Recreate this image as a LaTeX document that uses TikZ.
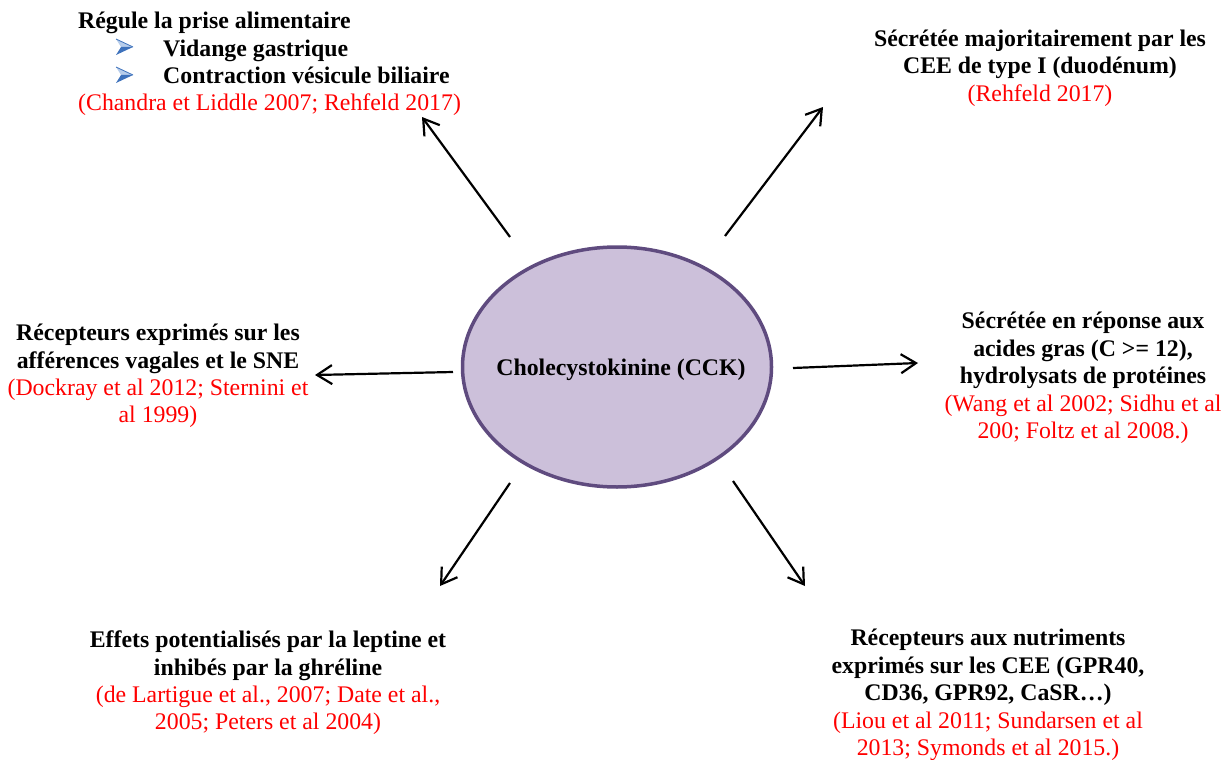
\documentclass[tikz,border=0pt]{standalone}
\usepackage{fontspec}
\setmainfont{Liberation Serif}
\usetikzlibrary{arrows.meta,shapes.geometric}

\definecolor{cckfill}{HTML}{CCC0DA}
\definecolor{cckline}{HTML}{5F4B7F}
\definecolor{refred}{HTML}{FF0000}
\definecolor{bulletlight}{HTML}{B7CDEB}
\definecolor{bulletdark}{HTML}{3E72BC}

% red, upright reference line
\newcommand{\refline}[1]{\textcolor{refred}{\mdseries #1}}

\tikzset{
  txt/.style={align=center, inner sep=0pt, font=\fontsize{23.8}{27.4}\selectfont\bfseries},
  link/.style={line width=2.2pt, -{Straight Barb[length=15pt,width=19pt,line width=2.2pt]}},
  pics/listarrow/.style={code={
    \fill[bulletlight] (-8,-8) -- (9,0) -- (-3,0) -- cycle;
    \draw[bulletdark, line width=0.8pt, line join=round] (-8,-8) -- (9,0);
    \fill[bulletdark] (-3,0) -- (9,0) -- (-8,8) -- cycle;
  }}
}

\begin{document}
\begin{tikzpicture}[x=1pt,y=-1pt]
\useasboundingbox (0,0) rectangle (1232,760);

% central hormone
\node[ellipse, draw=cckline, line width=3.5pt, fill=cckfill,
      minimum width=309pt, minimum height=240pt, inner sep=0pt] (cck) at (617,367) {};
\node[txt] (ccktext) at (621,370) {Cholecystokinine (CCK)};

% surrounding statements
\node[txt, align=left, anchor=west] (prise) at (78,64)
  {Régule la prise alimentaire\\
   \hspace*{85pt}Vidange gastrique\\
   \hspace*{85pt}Contraction vésicule biliaire\\
   \refline{(Chandra et Liddle 2007; Rehfeld 2017)}};
\pic at (124,47) {listarrow};
\pic at (124,75) {listarrow};

\node[txt] (cee) at (1040,68)
  {Sécrétée majoritairement par les\\
   CEE de type I (duodénum)\\
   \refline{(Rehfeld 2017)}};

\node[txt] (vagal) at (158,376)
  {Récepteurs exprimés sur les\\
   afférences vagales et le SNE\\
   \refline{(Dockray et al 2012; Sternini et}\\
   \refline{al 1999)}};

\node[txt] (gras) at (1083,378)
  {Sécrétée en réponse aux\\
   acides gras (C >= 12),\\
   hydrolysats de protéines\\
   \refline{(Wang et al 2002; Sidhu et al}\\
   \refline{200; Foltz et al 2008.)}};

\node[txt] (leptine) at (268,683)
  {Effets potentialisés par la leptine et\\
   inhibés par la ghréline\\
   \refline{(de Lartigue et al., 2007; Date et al.,}\\
   \refline{2005; Peters et al 2004)}};

\node[txt] (nutri) at (988,695)
  {Récepteurs aux nutriments\\
   exprimés sur les CEE (GPR40,\\
   CD36, GPR92, CaSR…)\\
   \refline{(Liou et al 2011; Sundarsen et al}\\
   \refline{2013; Symonds et al 2015.)}};

% connector end points
\coordinate (a1) at (510,237);  \coordinate (b1) at (422,117);
\coordinate (a2) at (725,236);  \coordinate (b2) at (823,107);
\coordinate (a3) at (453,372);  \coordinate (b3) at (315,375);
\coordinate (a4) at (793,368);  \coordinate (b4) at (918,363);
\coordinate (a5) at (510,483);  \coordinate (b5) at (440,586);
\coordinate (a6) at (733,481);  \coordinate (b6) at (805,586);

\draw[link] (a1) -- (b1);
\draw[link] (a2) -- (b2);
\draw[link] (a3) -- (b3);
\draw[link] (a4) -- (b4);
\draw[link] (a5) -- (b5);
\draw[link] (a6) -- (b6);
\end{tikzpicture}
\end{document}
